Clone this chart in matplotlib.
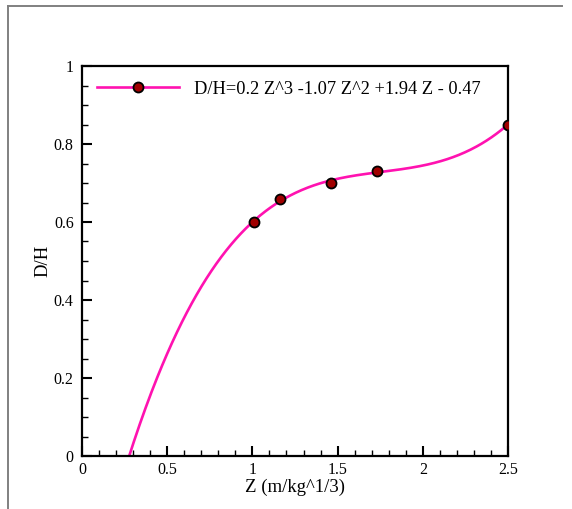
import numpy as np
import matplotlib
matplotlib.use("Agg")
import matplotlib.pyplot as plt
from matplotlib.lines import Line2D
from matplotlib.ticker import MultipleLocator

# data
z_points = [1.01, 1.16, 1.46, 1.73, 2.50]
dh_points = [0.60, 0.66, 0.70, 0.73, 0.85]
legend_label = "D/H=0.2 Z^3 -1.07 Z^2 +1.94 Z - 0.47"
x_label = "Z (m/kg^1/3)"
y_label = "D/H"
x_ticks = [0, 0.5, 1, 1.5, 2, 2.5]
x_ticklabels = ["0", "0.5", "1", "1.5", "2", "2.5"]
y_ticks = [0, 0.2, 0.4, 0.6, 0.8, 1]
y_ticklabels = ["0", "0.2", "0.4", "0.6", "0.8", "1"]

plt.rcParams['font.family'] = ['Liberation Serif', 'DejaVu Serif']
plt.rcParams['mathtext.default'] = 'regular'

fig = plt.figure(figsize=(5.72, 5.09), dpi=100)
W, H = 572, 509
ax = fig.add_axes([82 / W, 1 - 456 / H, (508 - 82) / W, (456 - 66) / H])

# trend curve: cubic fit of the points
coef = np.polyfit(z_points, dh_points, 3)
zc = np.linspace(0.2, 2.5, 400)
line_col = '#ff12b0'
ax.plot(zc, np.polyval(coef, zc), color=line_col, lw=1.9, zorder=2)
ax.plot(z_points, dh_points, linestyle='none', marker='o', ms=7.2,
        mfc='#a00000', mec='black', mew=1.3, zorder=3)

ax.set_xlim(0, 2.5)
ax.set_ylim(0, 1)
ax.set_xticks(x_ticks)
ax.set_xticklabels(x_ticklabels)
ax.set_yticks(y_ticks)
ax.set_yticklabels(y_ticklabels)
ax.xaxis.set_minor_locator(MultipleLocator(0.1))
ax.yaxis.set_minor_locator(MultipleLocator(0.05))
ax.tick_params(which='major', direction='in', length=7, width=1.5, labelsize=11.5,
               top=False, right=False, pad=4)
ax.tick_params(which='minor', direction='in', length=4, width=1.0,
               top=False, right=False)
ax.tick_params(axis='y', which='major', pad=6)
for s in ax.spines.values():
    s.set_linewidth(1.6)

ax.set_xlabel(x_label, fontsize=13.5, labelpad=1)
ax.set_ylabel(y_label, fontsize=13.5, labelpad=2)

handle = Line2D([], [], color=line_col, lw=1.9, marker='o', ms=7.2,
                mfc='#a00000', mec='black', mew=1.3)
ax.legend([handle], [legend_label], loc='upper left', frameon=False,
          fontsize=13.2, handlelength=4.5, handletextpad=0.8,
          borderaxespad=0.4, bbox_to_anchor=(0.0, 1.0))

# outer frame (top and left)
fig.add_artist(Line2D([8 / W, 562 / W], [1 - 6 / H, 1 - 6 / H],
                      color='#808080', lw=1.4, transform=fig.transFigure))
fig.add_artist(Line2D([8 / W, 8 / W], [1 - 6 / H, 0],
                      color='#808080', lw=1.4, transform=fig.transFigure))

fig.savefig("out.png", dpi=100)
